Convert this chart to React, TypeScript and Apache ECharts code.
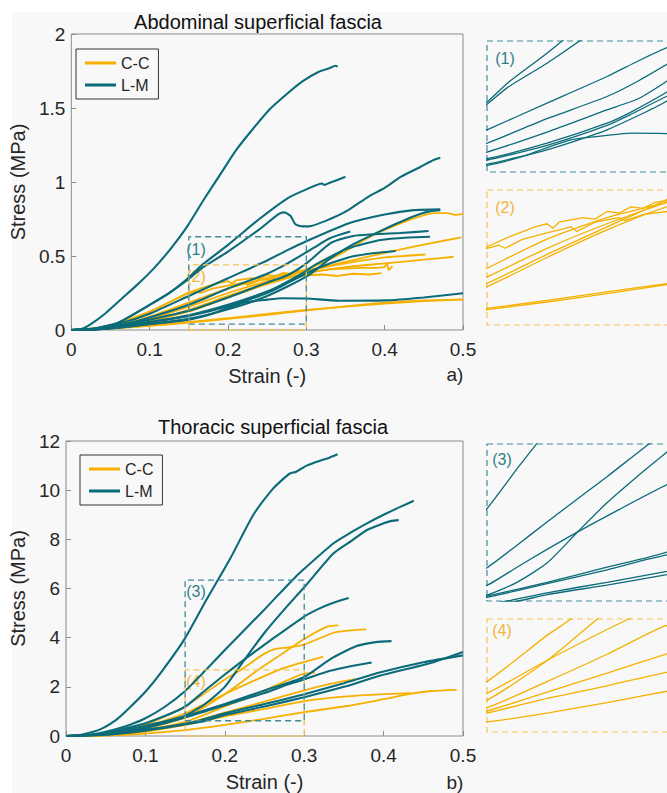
import React, { useEffect, useRef } from "react";
import * as echarts from "echarts";

const FONT = "'Liberation Sans', Arial, Helvetica, sans-serif";
const TEAL = "#0b6b79";
const ORANGE = "#f6b100";
const TEAL_BOX = "#3f8c98";
const ORANGE_BOX = "#f4c350";
const AXIS_GREY = "#8c8c8c";
const TEXT = "#262626";

const LEGEND_NAMES = ["C-C", "L-M"];
const TITLES = ["Abdominal superficial fascia", "Thoracic superficial fascia"];
const PANEL_TAGS = ["a)", "b)"];
const ZOOM_TAGS = ["(1)", "(2)", "(3)", "(4)"];

// zoom windows [x range], [y range]
const ZOOM1_X = [0.15, 0.3];
const ZOOM1_Y = [0.04, 0.63];
const ZOOM2_X = [0.15, 0.3];
const ZOOM2_Y = [0, 0.44];
const ZOOM3_X = [0.15, 0.3];
const ZOOM3_Y = [0.62, 6.34];
const ZOOM4_X = [0.15, 0.3];
const ZOOM4_Y = [0, 2.69];

// ---------- Abdominal, L-M ----------
const ABD_LM_1 = [[0,0],[0.01,0.002],[0.022,0.03],[0.043,0.11],[0.064,0.21],[0.085,0.31],[0.106,0.42],[0.127,0.55],[0.148,0.7],[0.169,0.88],[0.19,1.05],[0.211,1.22],[0.232,1.36],[0.253,1.49],[0.274,1.59],[0.295,1.68],[0.316,1.745],[0.33,1.77],[0.337,1.785],[0.34,1.78]];
const ABD_LM_2 = [[0,0],[0.03,0.01],[0.06,0.05],[0.1,0.17],[0.125,0.25],[0.15,0.355],[0.167,0.44],[0.2,0.575],[0.24,0.75],[0.276,0.89],[0.3,0.95],[0.32,0.99],[0.323,0.98],[0.33,0.995],[0.35,1.035]];
const ABD_LM_3 = [[0,0],[0.03,0.01],[0.06,0.05],[0.1,0.17],[0.125,0.25],[0.15,0.345],[0.167,0.42],[0.2,0.53],[0.24,0.68],[0.265,0.785],[0.272,0.795],[0.28,0.77],[0.286,0.715],[0.295,0.7],[0.303,0.7],[0.3325,0.755],[0.3535,0.81],[0.379,0.9],[0.4,0.96],[0.421,1.036],[0.445,1.1],[0.463,1.15],[0.471,1.164]];
const ABD_LM_4 = [[0,0],[0.03,0.008],[0.06,0.04],[0.1,0.11],[0.15,0.23],[0.2,0.35],[0.25,0.47],[0.276,0.54],[0.3,0.6],[0.3535,0.72],[0.4,0.78],[0.437,0.81],[0.471,0.815]];
const ABD_LM_5 = [[0,0],[0.03,0.003],[0.06,0.015],[0.1,0.04],[0.15,0.075],[0.2,0.14],[0.25,0.23],[0.3,0.36],[0.3325,0.49],[0.36,0.58],[0.395,0.67],[0.42,0.73],[0.446,0.785],[0.46,0.805],[0.471,0.81]];
const ABD_LM_6 = [[0,0],[0.03,0.005],[0.06,0.025],[0.1,0.07],[0.15,0.13],[0.2,0.22],[0.25,0.32],[0.276,0.37],[0.3,0.45],[0.332,0.59],[0.36,0.635],[0.38,0.645],[0.42,0.655],[0.456,0.669]];
const ABD_LM_7 = [[0,0],[0.03,0.004],[0.06,0.02],[0.1,0.055],[0.15,0.1],[0.2,0.17],[0.25,0.26],[0.27,0.31],[0.3,0.4],[0.311,0.44],[0.3535,0.552],[0.395,0.608],[0.43,0.625],[0.458,0.63]];
const ABD_LM_8 = [[0,0],[0.03,0.006],[0.06,0.03],[0.1,0.085],[0.15,0.17],[0.2,0.28],[0.25,0.38],[0.276,0.45],[0.311,0.56],[0.33,0.62],[0.356,0.665]];
const ABD_LM_9 = [[0,0],[0.03,0.004],[0.06,0.02],[0.1,0.05],[0.15,0.094],[0.2,0.16],[0.25,0.25],[0.27,0.3],[0.311,0.41],[0.3535,0.49],[0.38,0.515],[0.414,0.534]];
const ABD_LM_10 = [[0,0],[0.03,0.004],[0.06,0.015],[0.1,0.04],[0.15,0.07],[0.18,0.11],[0.2,0.15],[0.22,0.185],[0.25,0.205],[0.27,0.215],[0.3,0.213],[0.341,0.198],[0.4,0.2],[0.45,0.22],[0.5,0.248]];

// ---------- Abdominal, C-C ----------
const ABD_CC_1 = [[0,0],[0.03,0.005],[0.06,0.02],[0.1,0.06],[0.15,0.136],[0.2,0.23],[0.25,0.32],[0.3,0.41],[0.345,0.518],[0.374,0.608],[0.395,0.664],[0.437,0.754],[0.465,0.79],[0.48,0.79],[0.49,0.778],[0.5,0.785]];
const ABD_CC_2 = [[0,0],[0.03,0.006],[0.06,0.025],[0.1,0.075],[0.15,0.157],[0.2,0.25],[0.25,0.33],[0.3,0.4],[0.35,0.46],[0.4165,0.54],[0.458,0.585],[0.498,0.626]];
const ABD_CC_3 = [[0,0],[0.03,0.005],[0.06,0.02],[0.1,0.06],[0.15,0.125],[0.2,0.22],[0.25,0.31],[0.3,0.385],[0.35,0.425],[0.4,0.45],[0.45,0.475],[0.488,0.495]];
const ABD_CC_4 = [[0,0],[0.03,0.007],[0.06,0.03],[0.1,0.09],[0.15,0.185],[0.2,0.28],[0.25,0.35],[0.3,0.4],[0.35,0.45],[0.4,0.49],[0.452,0.51]];
const ABD_CC_5 = [[0,0],[0.03,0.01],[0.06,0.04],[0.1,0.12],[0.15,0.255],[0.17,0.29],[0.19,0.32],[0.2,0.33],[0.205,0.315],[0.21,0.335],[0.23,0.35],[0.24,0.345],[0.25,0.37],[0.26,0.365],[0.27,0.385],[0.28,0.38],[0.29,0.4],[0.3,0.405],[0.31,0.395],[0.33,0.41],[0.35,0.415],[0.37,0.42],[0.39,0.42],[0.4,0.425],[0.403,0.45],[0.405,0.405],[0.41,0.43]];
const ABD_CC_6 = [[0,0],[0.03,0.01],[0.06,0.045],[0.1,0.125],[0.15,0.25],[0.16,0.26],[0.165,0.25],[0.18,0.28],[0.2,0.3],[0.22,0.32],[0.225,0.305],[0.24,0.335],[0.26,0.35],[0.265,0.34],[0.28,0.36],[0.3,0.37],[0.32,0.375],[0.34,0.365],[0.36,0.38],[0.38,0.375],[0.396,0.385]];
const ABD_CC_7 = [[0,0],[0.05,0.012],[0.1,0.03],[0.15,0.054],[0.2,0.08],[0.25,0.108],[0.3,0.135],[0.35,0.158],[0.4,0.178],[0.45,0.195],[0.5,0.207]];
const ABD_CC_8 = [[0,0],[0.05,0.01],[0.1,0.028],[0.15,0.05],[0.2,0.075],[0.25,0.102],[0.3,0.132],[0.35,0.16],[0.4,0.185],[0.45,0.2],[0.5,0.205]];

// ---------- Thoracic, L-M ----------
const THO_LM_1 = [[0,0],[0.01,0.005],[0.022,0.07],[0.043,0.27],[0.064,0.68],[0.08,1.15],[0.1,1.8],[0.12,2.6],[0.149,3.93],[0.177,5.55],[0.2065,7.2],[0.236,9.0],[0.261,10.07],[0.275,10.5],[0.282,10.68],[0.29,10.75],[0.303,11.0],[0.32,11.2],[0.33,11.3],[0.342,11.46]];
const THO_LM_2 = [[0,0],[0.02,0.02],[0.04,0.1],[0.06,0.25],[0.08,0.45],[0.1,0.72],[0.125,1.2],[0.15,1.83],[0.175,2.65],[0.2,3.5],[0.25,5.15],[0.285,6.34],[0.3,6.8],[0.337,7.84],[0.36,8.3],[0.379,8.65],[0.4,9.0],[0.421,9.32],[0.438,9.57]];
const THO_LM_3 = [[0,0],[0.02,0.015],[0.04,0.06],[0.06,0.15],[0.08,0.28],[0.1,0.42],[0.125,0.6],[0.15,0.83],[0.175,1.3],[0.2,2.0],[0.2256,3.14],[0.25,4.2],[0.275,5.15],[0.3,6.05],[0.337,7.43],[0.36,7.95],[0.379,8.38],[0.4,8.65],[0.41,8.75],[0.419,8.78]];
const THO_LM_4 = [[0,0],[0.02,0.02],[0.04,0.08],[0.06,0.19],[0.08,0.35],[0.1,0.52],[0.125,0.82],[0.15,1.19],[0.175,1.85],[0.2,2.5],[0.2256,3.14],[0.26,3.95],[0.3,4.86],[0.316,5.14],[0.335,5.4],[0.356,5.61]];
const THO_LM_5 = [[0,0],[0.05,0.08],[0.1,0.33],[0.15,0.8],[0.2,1.3],[0.25,1.85],[0.3,2.4],[0.3325,3.12],[0.366,3.66],[0.39,3.82],[0.41,3.86]];
const THO_LM_6 = [[0,0],[0.05,0.08],[0.1,0.32],[0.15,0.75],[0.2,1.25],[0.25,1.75],[0.28,2.1],[0.3,2.3],[0.3325,2.65],[0.36,2.85],[0.385,2.99]];
const THO_LM_7 = [[0,0],[0.05,0.06],[0.1,0.25],[0.15,0.5],[0.167,0.62],[0.2,0.92],[0.25,1.3],[0.3,1.7],[0.35,2.15],[0.395,2.58],[0.45,3.0],[0.5,3.28]];
const THO_LM_8 = [[0,0],[0.05,0.05],[0.1,0.22],[0.15,0.47],[0.176,0.62],[0.2,0.85],[0.25,1.2],[0.3,1.58],[0.35,2.0],[0.395,2.45],[0.458,2.96],[0.5,3.42]];

// ---------- Thoracic, C-C ----------
const THO_CC_1 = [[0,0],[0.05,0.06],[0.1,0.3],[0.15,0.76],[0.201,1.72],[0.242,2.69],[0.27,3.3],[0.3,3.95],[0.329,4.45],[0.343,4.5]];
const THO_CC_2 = [[0,0],[0.05,0.08],[0.1,0.45],[0.15,1.2],[0.2,2.3],[0.22,2.69],[0.25,3.35],[0.265,3.55],[0.28,3.6],[0.3,3.72],[0.337,4.2],[0.36,4.3],[0.378,4.34]];
const THO_CC_3 = [[0,0],[0.05,0.07],[0.1,0.38],[0.15,0.92],[0.201,1.72],[0.268,2.69],[0.29,2.92],[0.324,3.23]];
const THO_CC_4 = [[0,0],[0.05,0.05],[0.1,0.25],[0.15,0.58],[0.2,1.2],[0.25,1.85],[0.2965,2.51],[0.3136,2.58]];
const THO_CC_5 = [[0,0],[0.05,0.04],[0.1,0.2],[0.15,0.5],[0.2,0.95],[0.25,1.4],[0.3,1.86],[0.33,2.1],[0.364,2.31]];
const THO_CC_6 = [[0,0],[0.05,0.04],[0.1,0.18],[0.15,0.45],[0.2,0.8],[0.25,1.1],[0.3,1.42],[0.35,1.6],[0.4,1.7],[0.435,1.74]];
const THO_CC_7 = [[0,0],[0.05,0.02],[0.1,0.1],[0.15,0.24],[0.2,0.45],[0.25,0.7],[0.3,0.97],[0.3535,1.22],[0.4,1.5],[0.435,1.72],[0.46,1.83],[0.492,1.88]];

const ABD_LM = [ABD_LM_1, ABD_LM_2, ABD_LM_3, ABD_LM_4, ABD_LM_5, ABD_LM_6, ABD_LM_7, ABD_LM_8, ABD_LM_9, ABD_LM_10];
const ABD_CC = [ABD_CC_1, ABD_CC_2, ABD_CC_3, ABD_CC_4, ABD_CC_5, ABD_CC_6, ABD_CC_7, ABD_CC_8];
const THO_LM = [THO_LM_1, THO_LM_2, THO_LM_3, THO_LM_4, THO_LM_5, THO_LM_6, THO_LM_7, THO_LM_8];
const THO_CC = [THO_CC_1, THO_CC_2, THO_CC_3, THO_CC_4, THO_CC_5, THO_CC_6, THO_CC_7];
// noisy traces are drawn unsmoothed
const NOISY = [ABD_CC_5, ABD_CC_6];

function boxPath(xr: number[], yr: number[]) {
  return [[xr[0], yr[0]], [xr[1], yr[0]], [xr[1], yr[1]], [xr[0], yr[1]], [xr[0], yr[0]]];
}

function curve(name: string, data: number[][], color: string, axis: number, width: number) {
  return {
    type: "line",
    name,
    data,
    xAxisIndex: axis,
    yAxisIndex: axis,
    symbol: "none",
    showSymbol: false,
    silent: true,
    clip: true,
    smooth: NOISY.includes(data) ? false : 0.2,
    lineStyle: { color, width },
    itemStyle: { color },
  };
}

function dashedBox(name: string, xr: number[], yr: number[], color: string, axis: number) {
  return {
    type: "line",
    name,
    data: boxPath(xr, yr),
    xAxisIndex: axis,
    yAxisIndex: axis,
    symbol: "none",
    silent: true,
    clip: false,
    z: 5,
    lineStyle: { color, width: 1.3, type: [6, 4] },
  };
}

function mainX(grid: number) {
  return {
    gridIndex: grid,
    type: "value",
    min: 0,
    max: 0.5,
    interval: 0.1,
    axisLine: { show: false },
    axisTick: { inside: true, length: 5, lineStyle: { color: AXIS_GREY } },
    axisLabel: { fontSize: 19, color: TEXT, margin: 10, fontFamily: FONT },
    splitLine: { show: false },
    name: "Strain (-)",
    nameLocation: "middle",
    nameGap: 36,
    nameTextStyle: { fontSize: 20, color: TEXT, fontFamily: FONT },
  };
}
function mainY(grid: number, max: number, interval: number, gap: number) {
  return {
    gridIndex: grid,
    type: "value",
    min: 0,
    max,
    interval,
    axisLine: { show: false },
    axisTick: { inside: true, length: 5, lineStyle: { color: AXIS_GREY } },
    axisLabel: { fontSize: 19, color: TEXT, margin: 6, fontFamily: FONT },
    splitLine: { show: false },
    name: "Stress (MPa)",
    nameLocation: "middle",
    nameGap: gap,
    nameTextStyle: { fontSize: 20, color: TEXT, fontFamily: FONT },
  };
}
function insetAxis(grid: number, r: number[]) {
  return { gridIndex: grid, type: "value", min: r[0], max: r[1], show: false };
}

function buildOption() {
  const series: any[] = [];
  // Abdominal main (axis 0) + insets (1: L-M, 2: C-C)
  ABD_CC.forEach((d) => series.push(curve("C-C", d, ORANGE, 0, 1.8)));
  ABD_LM.forEach((d) => series.push(curve("L-M", d, TEAL, 0, 2.1)));
  ABD_LM.forEach((d) => series.push(curve("L-M", d, TEAL, 1, 1.3)));
  ABD_CC.forEach((d) => series.push(curve("C-C", d, ORANGE, 2, 1.3)));
  // Thoracic main (axis 3) + insets (4: L-M, 5: C-C)
  THO_CC.forEach((d) => series.push(curve("C-C", d, ORANGE, 3, 1.8)));
  THO_LM.forEach((d) => series.push(curve("L-M", d, TEAL, 3, 2.1)));
  THO_LM.forEach((d) => series.push(curve("L-M", d, TEAL, 4, 1.3)));
  THO_CC.forEach((d) => series.push(curve("C-C", d, ORANGE, 5, 1.3)));
  // zoom boxes
  series.push(dashedBox("box2", ZOOM2_X, ZOOM2_Y, ORANGE_BOX, 0));
  series.push(dashedBox("box1", ZOOM1_X, ZOOM1_Y, TEAL_BOX, 0));
  series.push(dashedBox("box4", ZOOM4_X, ZOOM4_Y, ORANGE_BOX, 3));
  series.push(dashedBox("box3", ZOOM3_X, ZOOM3_Y, TEAL_BOX, 3));

  const legendBase = {
    data: LEGEND_NAMES,
    orient: "vertical",
    icon: "rect",
    itemWidth: 31,
    itemHeight: 3,
    itemGap: 6,
    selectedMode: false,
    borderColor: "#333",
    borderWidth: 1,
    padding: [6, 9, 6, 9],
    textStyle: { fontSize: 16, color: TEXT, fontFamily: FONT },
  };

  const insetRect = (x: number, y: number, w: number, h: number, color: string) => ({
    type: "rect",
    shape: { x, y, width: w, height: h },
    style: { fill: "none", stroke: color, lineWidth: 1.2, lineDash: [6, 4] },
    silent: true,
  });
  const tag = (text: string, x: number, y: number, color: string, size: number) => ({
    type: "text",
    x,
    y,
    silent: true,
    style: { text, fill: color, fontSize: size, fontFamily: FONT, align: "center", verticalAlign: "middle" },
  });

  return {
    animation: false,
    backgroundColor: "transparent",
    title: [
      { text: TITLES[0], left: 253, top: 7, textAlign: "center", textStyle: { fontSize: 20, fontWeight: "normal", color: "#111", fontFamily: FONT } },
      { text: TITLES[1], left: 268, top: 412, textAlign: "center", textStyle: { fontSize: 20, fontWeight: "normal", color: "#111", fontFamily: FONT } },
    ],
    legend: [
      { ...legendBase, left: 76, top: 49 },
      { ...legendBase, left: 80, top: 455 },
    ],
    grid: [
      { left: 66, top: 34, width: 397, height: 296, show: true, borderColor: AXIS_GREY, borderWidth: 1, backgroundColor: "transparent" },
      { left: 487, top: 41, width: 184, height: 131 },
      { left: 487, top: 190, width: 184, height: 135 },
      { left: 66, top: 441, width: 397, height: 296, show: true, borderColor: AXIS_GREY, borderWidth: 1, backgroundColor: "transparent" },
      { left: 487, top: 444, width: 184, height: 157 },
      { left: 487, top: 619, width: 184, height: 113 },
    ],
    xAxis: [
      mainX(0),
      insetAxis(1, ZOOM1_X),
      insetAxis(2, ZOOM2_X),
      mainX(3),
      insetAxis(4, ZOOM3_X),
      insetAxis(5, ZOOM4_X),
    ],
    yAxis: [
      mainY(0, 2, 0.5, 33),
      insetAxis(1, ZOOM1_Y),
      insetAxis(2, ZOOM2_Y),
      mainY(3, 12, 2, 28),
      insetAxis(4, ZOOM3_Y),
      insetAxis(5, ZOOM4_Y),
    ],
    series,
    graphic: [
      insetRect(487, 41, 184, 131, TEAL_BOX),
      insetRect(487, 190, 184, 135, ORANGE_BOX),
      insetRect(487, 444, 184, 157, TEAL_BOX),
      insetRect(487, 619, 184, 113, ORANGE_BOX),
      tag(ZOOM_TAGS[0], 505, 58, "#2f7f8b", 16),
      tag(ZOOM_TAGS[1], 505, 207, "#f2b43a", 16),
      tag(ZOOM_TAGS[2], 502, 459, "#2f7f8b", 16),
      tag(ZOOM_TAGS[3], 502, 630, "#f2b43a", 16),
      tag(ZOOM_TAGS[0], 196, 249, "#2f7f8b", 16),
      tag(ZOOM_TAGS[1], 196, 276, "#f2b43a", 16),
      tag(ZOOM_TAGS[2], 196, 591, "#2f7f8b", 16),
      tag(ZOOM_TAGS[3], 196, 681, "#f2b43a", 16),
      tag(PANEL_TAGS[0], 455, 374, TEXT, 19),
      tag(PANEL_TAGS[1], 455, 782, TEXT, 19),
    ],
  };
}

export default function App() {
  const ref = useRef<HTMLDivElement>(null);
  useEffect(() => {
    const chart = echarts.init(ref.current as HTMLDivElement, null, { renderer: "svg" });
    chart.setOption(buildOption() as any);
    return () => chart.dispose();
  }, []);
  return (
    <div style={{ position: "fixed", left: 0, top: 0, width: 667, height: 793, background: "#ffffff", overflow: "hidden" }}>
      <div style={{ position: "absolute", left: 12, top: 12, right: 0, bottom: 0, background: "#f8f8f8" }} />
      <div ref={ref} style={{ position: "absolute", left: 0, top: 0, width: 667, height: 793 }} />
    </div>
  );
}
